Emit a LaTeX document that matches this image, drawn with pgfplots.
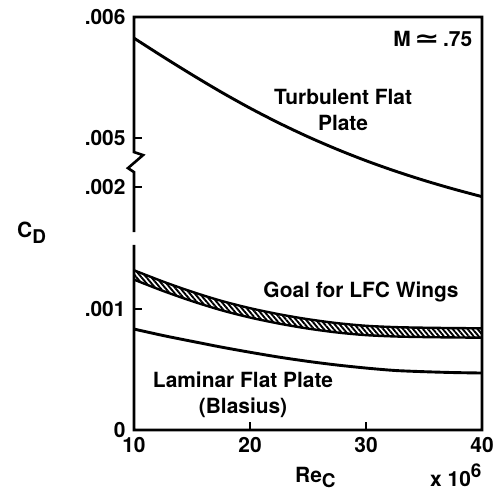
\documentclass[border=0pt]{standalone}
\usepackage{fontspec}
\setmainfont{TeX Gyre Heros}
\newfontfamily\dejavu{DejaVu Sans}
\usepackage{pgfplots}
\pgfplotsset{compat=1.18}
\usepackage{pgfplotstable}
\usepgfplotslibrary{fillbetween}
\usetikzlibrary{patterns.meta}

% y values in units of 0.001 on the (broken) plotting scale:
% 0..2 = .000..002 ; 2.4..3.4 = .005..006
\pgfplotstableread{
x y
10 3.226
12.5 3.073
15 2.925
17.5 2.783
20 2.650
22.5 2.527
25 2.414
27.5 2.311
30 2.217
32.5 2.132
35 2.055
37.5 1.985
40 1.921
}\turb

\pgfplotstableread{
x y
10 1.315
12.5 1.222
15 1.138
17.5 1.064
20 1.003
22.5 0.953
25 0.912
27.5 0.880
30 0.858
32.5 0.847
35 0.842
37.5 0.839
40 0.837
}\goalup

\pgfplotstableread{
x y
10 1.238
12.5 1.145
15 1.061
17.5 0.987
20 0.926
22.5 0.876
25 0.835
27.5 0.803
30 0.781
32.5 0.770
35 0.765
37.5 0.762
40 0.760
}\goallo

\pgfplotstableread{
x y
10 0.831
12.5 0.778
15 0.730
17.5 0.683
20 0.640
22.5 0.600
25 0.565
27.5 0.535
30 0.510
32.5 0.490
35 0.480
37.5 0.473
40 0.469
}\lam

\newcommand{\lf}{\bfseries\fontsize{21}{26}\selectfont}

\begin{document}
\begin{tikzpicture}
\begin{axis}[
  width=348bp, height=413bp, scale only axis,
  xmin=10, xmax=40, ymin=0, ymax=3.4,
  clip=false,
  axis line style={draw=none},
  xtick={10,20,30,40},
  ytick={0,1,2,2.4,3.4},
  yticklabels={0,.001,.002,.005,.006},
  tick pos=left,
  tick align=inside,
  major tick length=8bp,
  tick style={line width=2bp, black},
  /pgf/number format/assume math mode=true,
  ticklabel style={font=\bfseries\fontsize{21}{21}\selectfont},
  xticklabel style={yshift=-4bp},
  yticklabel style={xshift=-5bp},
]
\coordinate (sw) at (rel axis cs:0,0);

\addplot[draw=none, smooth, name path=gu] table[x=x,y=y] {\goalup};
\addplot[draw=none, smooth, name path=gl] table[x=x,y=y] {\goallo};
\addplot[draw=none, pattern={Lines[angle=-50,distance=3.8bp,line width=1.9bp]}, pattern color=black]
  fill between[of=gu and gl];

\addplot[black, line width=2.4bp, smooth] table[x=x,y=y] {\goalup};
\addplot[black, line width=2.4bp, smooth] table[x=x,y=y] {\goallo};
\addplot[black, line width=2.9bp, smooth] table[x=x,y=y] {\turb};
\addplot[black, line width=2.9bp, smooth] table[x=x,y=y] {\lam};

% frame with broken left axis
\draw[line width=2.6bp, line join=miter, line cap=butt]
  (axis cs:10,1.523) -- (axis cs:10,0) -- (axis cs:40,0) -- (axis cs:40,3.4)
  -- (axis cs:10,3.4) -- (axis cs:10,2.288) -- (axis cs:10.78,2.263)
  -- (axis cs:9.48,2.156) -- (axis cs:10,2.123) -- (axis cs:10,1.630);

% labels
\node[anchor=east, font=\lf, inner sep=0pt] at (axis cs:39.17,3.218)
  {M\,\scalebox{1.45}[1.1]{\dejavu\bfseries ≃}\,.75};
\node[align=center, font=\lf, inner sep=0pt] at (axis cs:28.02,2.634)
  {Turbulent Flat\\Plate};
\node[font=\lf, inner sep=0pt] at (axis cs:29.57,1.136) {Goal for LFC Wings};
\node[align=center, font=\lf, inner sep=0pt] at (axis cs:19.40,0.292)
  {Laminar Flat Plate\\(Blasius)};
\node[anchor=base west, font=\lf, inner sep=0pt] at (axis cs:23.88,-0.436)
  {Re\raisebox{-5bp}{\fontsize{19}{19}\selectfont C}};
\node[anchor=base west, font=\lf, inner sep=0pt] at (axis cs:35.52,-0.469)
  {x 10\raisebox{9bp}{\fontsize{19}{19}\selectfont 6}};
\node[anchor=base west, font=\lf, inner sep=0pt] at (axis cs:-0.086,1.588)
  {C\raisebox{-6bp}{\fontsize{19}{19}\selectfont D}};
\end{axis}
\path (sw) ++(-134bp,-63bp) rectangle ++(500bp,493bp);
\end{tikzpicture}
\end{document}
